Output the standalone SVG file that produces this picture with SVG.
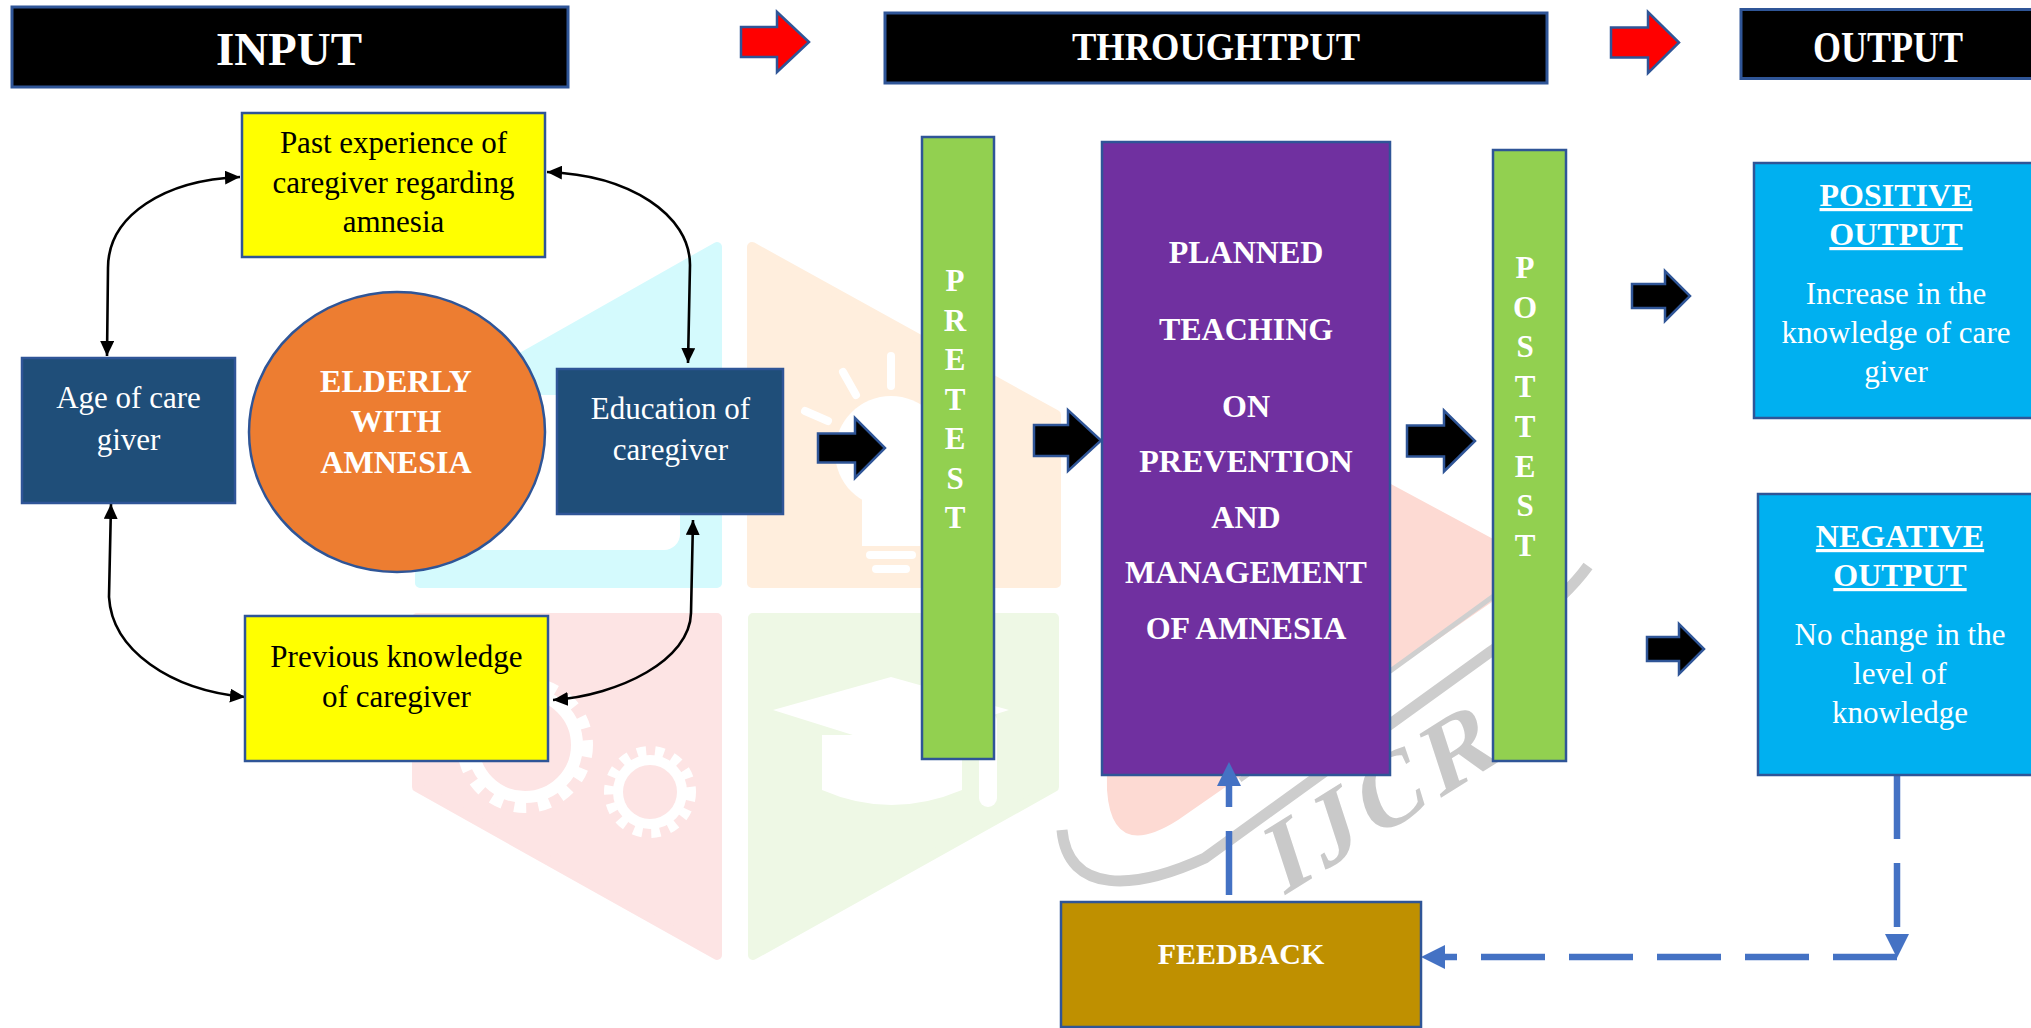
<svg xmlns="http://www.w3.org/2000/svg" width="2031" height="1028" viewBox="0 0 2031 1028">
<defs>
<style>
.t{font-family:"Liberation Serif","Times New Roman",serif;text-anchor:middle}
.w{fill:#fff}
.k{fill:#000}
.b{font-weight:bold}
.f31{font-size:31px}
.f32{font-size:32px}
.box{stroke:#2F5597;stroke-width:2.5}
.hdr{fill:#000;stroke:#2F5597;stroke-width:3}
.blk{fill:#000;stroke:#2F5597;stroke-width:2.5}
.red{fill:#FF0000;stroke:#2F5597;stroke-width:2.5}
.curve{fill:none;stroke:#000;stroke-width:2.6;marker-start:url(#ah);marker-end:url(#ah)}
.dash{fill:none;stroke:#4472C4;stroke-width:6.5;stroke-dasharray:64 24;marker-end:url(#bh)}
.u{text-decoration:underline}
</style>
<marker id="ah" markerUnits="userSpaceOnUse" markerWidth="16" markerHeight="14" refX="15" refY="7" orient="auto-start-reverse"><path d="M0,0 L15,7 L0,14 z" fill="#000"/></marker>
<marker id="bh" markerUnits="userSpaceOnUse" markerWidth="26" markerHeight="26" refX="0" refY="12" orient="auto"><path d="M0,0 L24,12 L0,24 z" fill="#4472C4"/></marker>
</defs>
<rect width="2031" height="1028" fill="#fff"/>

<g id="watermark">
<path d="M717 247 L717 583 L420 583 L420 415 Z" fill="#D4FAFD" stroke="#D4FAFD" stroke-width="10" stroke-linejoin="round"/>
<path d="M752 247 L1056 415 L1056 583 L752 583 Z" fill="#FFEEDD" stroke="#FFEEDD" stroke-width="10" stroke-linejoin="round"/>
<path d="M417 618 L717 618 L717 955 L417 787 Z" fill="#FDE4E4" stroke="#FDE4E4" stroke-width="10" stroke-linejoin="round"/>
<path d="M753 618 L1054 618 L1054 787 L753 955 Z" fill="#EEF8E5" stroke="#EEF8E5" stroke-width="10" stroke-linejoin="round"/>
<rect x="470" y="395" width="210" height="155" rx="16" fill="#fff"/>
<g fill="#fff" stroke="#fff" stroke-linecap="round">
<circle cx="891" cy="452" r="56" stroke="none"/>
<rect x="862" y="470" width="58" height="76" stroke="none"/>
<rect x="866" y="551" width="50" height="8" rx="4" stroke="none"/>
<rect x="872" y="565" width="38" height="8" rx="4" stroke="none"/>
<line x1="891" y1="356" x2="891" y2="386" stroke-width="8"/>
<line x1="843" y1="372" x2="856" y2="395" stroke-width="8"/>
<line x1="805" y1="411" x2="828" y2="421" stroke-width="8"/>
</g>
<g fill="#fff">
<path d="M773 710 L891 677 L1009 710 L891 747 Z"/>
<path d="M822 735 L962 735 L962 790 Q891 820 822 790 Z"/>
<rect x="979" y="712" width="18" height="95" rx="9"/>
</g>
<g fill="none" stroke="#fff">
<circle cx="525" cy="745" r="52" stroke-width="12"/>
<circle cx="525" cy="745" r="62" stroke-width="12" stroke-dasharray="12 12"/>
<circle cx="650" cy="792" r="32" stroke-width="10"/>
<circle cx="650" cy="792" r="41" stroke-width="10" stroke-dasharray="9 9"/>
</g>
<path d="M1105 360 Q1105 332 1132 345 L1510 548 Q1545 566 1512 588 L1178 820 Q1112 862 1107 790 Z" fill="#FDDAD3"/>
<path d="M1240 780 L1495 595" fill="none" stroke="#CFCFCF" stroke-width="5"/>
<path d="M1062 830 C1068 895 1135 890 1205 858 L1490 652 Q1560 605 1588 566" fill="none" stroke="#CDCDCD" stroke-width="11"/>
<text class="t b" transform="translate(1282 897) rotate(-32) skewX(-14)" x="0" y="0" style="text-anchor:start;font-size:100px;letter-spacing:8px" fill="#C9C9C9">IJCR</text>
</g>

<g id="connectors">
<path class="curve" d="M107 356 L108 268 C108 215 165 180 240 177"/>
<path class="curve" d="M547 172 C630 175 690 215 690 265 L688 363"/>
<path class="curve" d="M111 504 L109 597 C112 650 170 690 245 697"/>
<path class="curve" d="M693 520 L691 613 C690 660 620 695 553 700"/>
<path class="red" d="M741 27 L777 27 L777 12 L809 42 L777 72 L777 57 L741 57 Z"/>
<path class="red" d="M1611 27.5 L1648 27.5 L1648 12 L1679 42.5 L1648 73 L1648 57.5 L1611 57.5 Z"/>
<path class="blk" d="M818 433.5 L855 433.5 L855 418 L885 448 L855 478 L855 462.5 L818 462.5 Z"/>
<path class="blk" d="M1034 425 L1068 425 L1068 410 L1101 440.5 L1068 471 L1068 456 L1034 456 Z"/>
<path class="blk" d="M1407 425.5 L1444 425.5 L1444 410.5 L1475 441 L1444 471.5 L1444 456.5 L1407 456.5 Z"/>
<path class="blk" d="M1632 284 L1665 284 L1665 271 L1690 296 L1665 321 L1665 308 L1632 308 Z"/>
<path class="blk" d="M1647 637 L1679 637 L1679 624 L1704 649 L1679 674 L1679 661 L1647 661 Z"/>
<path class="dash" d="M1897 775 L1897 934"/>
<path class="dash" d="M1897 957 L1445 957"/>
</g>

<g id="hdr-input"><rect class="hdr" x="12" y="7" width="556" height="80"/><text class="t w b" x="289" y="65" style="font-size:47px">INPUT</text></g>
<g id="hdr-throughput"><rect class="hdr" x="885" y="13" width="662" height="70"/><text class="t w b" x="1216" y="60" style="font-size:40px" textLength="288" lengthAdjust="spacingAndGlyphs">THROUGHTPUT</text></g>
<g id="hdr-output"><rect class="hdr" x="1741" y="9.5" width="300" height="69"/><text class="t w b" x="1888" y="62" style="font-size:44px" textLength="150" lengthAdjust="spacingAndGlyphs">OUTPUT</text></g>

<g id="past-experience"><rect class="box" x="242" y="113" width="303" height="144" fill="#FFFF00"/>
<text class="t k f31"><tspan x="393.5" y="153">Past experience of</tspan><tspan x="393.5" y="193">caregiver regarding</tspan><tspan x="393.5" y="232">amnesia</tspan></text></g>

<g id="age"><rect class="box" x="22" y="358" width="213" height="145" fill="#1F4E79"/>
<text class="t w f31"><tspan x="128.5" y="408">Age of care</tspan><tspan x="128.5" y="450">giver</tspan></text></g>

<g id="elderly"><ellipse class="box" cx="397" cy="432" rx="148" ry="140" fill="#ED7D31"/>
<text class="t w b f32"><tspan x="396" y="392">ELDERLY</tspan><tspan x="396" y="432">WITH</tspan><tspan x="396" y="473">AMNESIA</tspan></text></g>

<g id="education"><rect class="box" x="557" y="369" width="226" height="145" fill="#1F4E79"/>
<text class="t w f31"><tspan x="670.5" y="419">Education of</tspan><tspan x="670.5" y="460">caregiver</tspan></text></g>

<g id="previous"><rect class="box" x="245" y="616" width="303" height="145" fill="#FFFF00"/>
<text class="t k f31"><tspan x="396.5" y="667">Previous knowledge</tspan><tspan x="396.5" y="707">of caregiver</tspan></text></g>

<g id="pretest"><rect class="box" x="922" y="137" width="72" height="622" fill="#92D050"/>
<text class="t w b f31"><tspan x="955" y="291">P</tspan><tspan x="955" y="330.5">R</tspan><tspan x="955" y="370">E</tspan><tspan x="955" y="409.5">T</tspan><tspan x="955" y="449">E</tspan><tspan x="955" y="488.5">S</tspan><tspan x="955" y="528">T</tspan></text></g>

<g id="teaching"><rect class="box" x="1102" y="142" width="288" height="633" fill="#7030A0"/>
<text class="t w b f32"><tspan x="1246" y="263">PLANNED</tspan><tspan x="1246" y="340">TEACHING</tspan><tspan x="1246" y="417">ON</tspan><tspan x="1246" y="472">PREVENTION</tspan><tspan x="1246" y="528">AND</tspan><tspan x="1246" y="583">MANAGEMENT</tspan><tspan x="1246" y="639">OF AMNESIA</tspan></text></g>

<g id="posttest"><rect class="box" x="1493" y="150" width="73" height="611" fill="#92D050"/>
<text class="t w b f31"><tspan x="1525" y="278">P</tspan><tspan x="1525" y="317.7">O</tspan><tspan x="1525" y="357.4">S</tspan><tspan x="1525" y="397.1">T</tspan><tspan x="1525" y="436.8">T</tspan><tspan x="1525" y="476.5">E</tspan><tspan x="1525" y="516.2">S</tspan><tspan x="1525" y="556">T</tspan></text></g>

<g id="positive"><rect class="box" x="1754" y="163" width="290" height="255" fill="#00B0F0"/>
<text class="t w b f32 u"><tspan x="1896" y="206">POSITIVE</tspan><tspan x="1896" y="245">OUTPUT</tspan></text>
<text class="t w f31"><tspan x="1896" y="304">Increase in the</tspan><tspan x="1896" y="343">knowledge of care</tspan><tspan x="1896" y="382">giver</tspan></text></g>

<g id="negative"><rect class="box" x="1758" y="494" width="290" height="281" fill="#00B0F0"/>
<text class="t w b f32 u"><tspan x="1900" y="547">NEGATIVE</tspan><tspan x="1900" y="586">OUTPUT</tspan></text>
<text class="t w f31"><tspan x="1900" y="645">No change in the</tspan><tspan x="1900" y="684">level of</tspan><tspan x="1900" y="723">knowledge</tspan></text></g>

<g id="feedback"><rect class="box" x="1061" y="902" width="360" height="125" fill="#BF9000"/>
<text class="t w b" x="1241" y="964" style="font-size:30px">FEEDBACK</text></g>

<g id="feedback-link"><path class="dash" d="M1229 895 L1229 786"/></g>
</svg>
